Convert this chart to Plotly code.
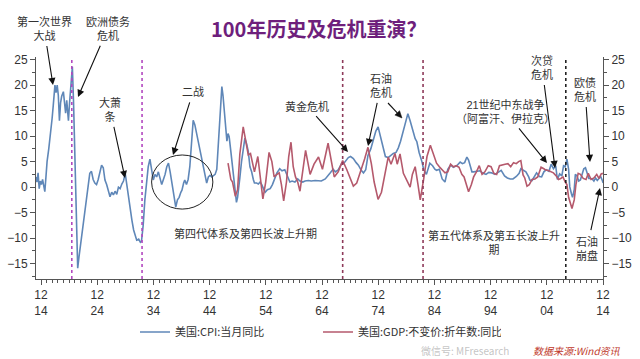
import plotly.graph_objects as go

# ---------------- data ----------------
cpi_year = [
    1914.0, 1914.2, 1914.4, 1914.6, 1914.8, 1915.0, 1915.2, 1915.4, 1915.6, 1915.8,
    1916.0, 1916.3, 1916.6, 1916.9, 1917.1, 1917.4, 1917.6, 1917.8, 1918.0, 1918.2,
    1918.4, 1918.6, 1918.9, 1919.1, 1919.3, 1919.5, 1919.8, 1920.0, 1920.2, 1920.5,
    1920.7, 1920.85, 1921.1, 1921.3, 1921.45, 1921.7, 1921.9, 1922.2, 1922.45, 1922.7,
    1923.05, 1923.3, 1923.6, 1923.9, 1924.2, 1924.5, 1924.8, 1925.1, 1925.4, 1925.7,
    1926.0, 1926.3, 1926.6, 1926.9, 1927.2, 1927.5, 1927.8, 1928.1, 1928.4, 1928.7,
    1929.0, 1929.3, 1929.6, 1929.9, 1930.1, 1930.45, 1930.8, 1931.1, 1931.4, 1931.7,
    1931.95, 1932.3, 1932.6, 1932.8, 1933.1, 1933.4, 1933.7, 1934.0, 1934.3, 1934.6,
    1934.9, 1935.2, 1935.5, 1935.8, 1936.1, 1936.4, 1936.7, 1937.0, 1937.3, 1937.6,
    1937.9, 1938.2, 1938.5, 1938.9, 1939.2, 1939.5, 1939.8, 1940.0, 1940.3, 1940.5,
    1940.8, 1941.1, 1941.4, 1941.7, 1942.0, 1942.3, 1942.6, 1942.9, 1943.2, 1943.5,
    1943.8, 1944.1, 1944.4, 1944.7, 1945.0, 1945.3, 1945.6, 1945.9, 1946.2, 1946.5,
    1946.8, 1947.1, 1947.3, 1947.5, 1947.8, 1948.0, 1948.2, 1948.4, 1948.7, 1948.9,
    1949.2, 1949.4, 1949.7, 1949.9, 1950.1, 1950.3, 1950.6, 1950.9, 1951.2, 1951.5,
    1951.8, 1952.1, 1952.4, 1952.7, 1952.9, 1953.3, 1953.6, 1953.9, 1954.2, 1954.5,
    1954.8, 1955.2, 1955.7, 1956.1, 1956.6, 1956.9, 1957.4, 1957.8, 1958.3, 1958.7,
    1959.2, 1959.6, 1960.1, 1960.6, 1961.0, 1961.5, 1961.9, 1962.5, 1963.0, 1963.7,
    1964.2, 1964.8, 1965.5, 1966.0, 1966.4, 1966.9, 1967.3, 1967.8, 1968.4, 1968.9,
    1969.3, 1969.6, 1970.0, 1970.5, 1971.0, 1971.4, 1971.9, 1972.3, 1972.7, 1973.1,
    1973.6, 1974.1, 1974.5, 1974.9, 1975.3, 1975.8, 1976.2, 1976.7, 1977.1, 1977.6,
    1978.1, 1978.5, 1978.9, 1979.4, 1979.8, 1980.2, 1980.6, 1981.0, 1981.2, 1981.5,
    1981.8, 1982.2, 1982.7, 1983.0, 1983.5, 1984.1, 1984.6, 1985.0, 1985.3, 1985.8,
    1986.3, 1986.8, 1987.3, 1987.8, 1988.3, 1988.9, 1989.5, 1989.9, 1990.3, 1990.7,
    1991.0, 1991.6, 1991.9, 1992.5, 1993.0, 1993.6, 1994.1, 1994.6, 1995.1, 1995.7,
    1996.3, 1996.8, 1997.4, 1997.9, 1998.4, 1998.9, 1999.5, 2000.0, 2000.3, 2000.7,
    2001.2, 2001.7, 2001.9, 2002.3, 2002.8, 2003.1, 2003.6, 2004.0, 2004.4, 2004.8,
    2005.3, 2005.7, 2006.1, 2006.5, 2006.8, 2007.2, 2007.6, 2007.9, 2008.2, 2008.5,
    2008.8, 2009.0, 2009.3, 2009.5, 2009.8, 2010.0, 2010.3, 2010.6, 2010.9, 2011.2,
    2011.5, 2011.8, 2012.1, 2012.4, 2012.7, 2013.0, 2013.3, 2013.6, 2013.9, 2014.2,
    2014.5, 2014.8, 2014.95,
]
cpi_value = [
    2.0, 1.0, 2.8, -0.3, 1.2, 0.5, 1.5, 0.0, -0.9, 2.0,
    5.0, 7.5, 10.0, 13.5, 16.0, 20.0, 18.5, 20.0, 18.0, 13.0,
    16.5, 17.8, 18.7, 16.0, 14.5, 17.0, 13.0, 16.5, 19.0, 23.6,
    17.0, 9.5, -3.0, -10.4, -15.9, -13.5, -11.7, -9.5, -7.8, -4.5,
    -1.9, 1.0, 2.7, 3.1, 1.5, 0.8, 0.5, 1.5, 3.0, 4.3,
    3.8, 1.4, 0.5, -0.6, -1.9, -1.0, -1.5, -0.8, -1.4, 0.0,
    -0.3, 0.6, 1.2, 2.7, 1.0, -1.0, -4.5, -6.5, -8.4, -9.5,
    -10.4, -10.2, -10.8, -10.6, -7.5, -2.5, 1.5, 4.0, 5.5, 3.5,
    1.4, 2.5, 2.0, 3.0, 1.5, 0.5, 1.5, 2.5, 4.0, 4.7,
    3.0, 0.8, -1.9, -3.9, -2.5, -2.0, -1.0, -0.6, 0.8, 1.4,
    0.5, 1.5, 4.0, 8.0, 13.1, 12.2, 10.6, 9.0, 7.9, 6.0,
    4.0, 2.5, 0.8, 2.0, 2.3, 2.0, 2.2, 2.5, 3.5, 9.2,
    15.0, 19.7, 18.0, 15.0, 10.6, 9.0, 10.5, 9.9, 7.0, 5.0,
    1.0, -1.2, -3.0, -2.0, -0.5, 1.8, 5.0, 7.5, 9.6, 8.5,
    7.0, 4.0, 3.0, 1.5, 0.8, 0.8, 0.6, 1.0, 0.5, -0.3,
    -1.0, -0.5, -0.3, 0.5, 1.8, 2.8, 3.6, 3.2, 3.4, 2.2,
    1.0, 1.2, 1.0, 1.6, 1.2, 1.0, 1.2, 1.3, 1.2, 1.3,
    1.2, 1.2, 1.6, 2.2, 2.8, 3.5, 3.0, 3.4, 4.6, 4.8,
    5.3, 5.8, 6.0, 5.6, 4.8, 4.3, 3.3, 2.8, 3.4, 6.2,
    7.5, 9.6, 11.0, 11.8, 10.0, 7.5, 6.0, 5.8, 6.2, 6.6,
    6.8, 7.7, 9.0, 11.3, 12.8, 14.4, 13.0, 11.5, 10.8, 9.5,
    8.9, 6.8, 5.0, 3.5, 2.5, 4.7, 4.2, 3.5, 3.3, 3.5,
    1.6, 1.0, 3.5, 4.3, 3.9, 4.2, 4.9, 4.6, 4.8, 5.9,
    5.3, 3.0, 3.0, 3.1, 3.2, 2.7, 2.5, 2.9, 2.8, 2.5,
    2.9, 3.3, 2.2, 1.8, 1.6, 1.6, 2.1, 2.7, 3.6, 3.4,
    3.0, 2.0, 1.4, 1.3, 2.2, 2.8, 2.1, 2.0, 3.0, 3.4,
    3.1, 4.5, 3.6, 4.2, 1.5, 2.6, 2.2, 4.2, 4.0, 5.5,
    3.5, 0.1, -1.3, -2.0, -0.5, 2.5, 2.2, 1.2, 1.4, 2.6,
    3.6, 3.8, 2.9, 1.7, 1.7, 1.6, 1.2, 1.8, 1.3, 1.6,
    2.1, 1.3, 0.8,
]

gdp_year = [
    1948.2, 1948.7, 1949.0, 1949.5, 1949.9, 1950.3, 1950.9, 1951.3, 1951.8, 1952.2,
    1952.9, 1953.5, 1953.9, 1954.4, 1954.9, 1955.5, 1956.0, 1956.4, 1956.9, 1957.3,
    1957.7, 1958.1, 1958.6, 1959.0, 1959.4, 1959.8, 1960.2, 1960.6, 1961.0, 1961.5,
    1962.0, 1962.8, 1963.5, 1964.3, 1965.0, 1966.0, 1966.6, 1967.1, 1967.8, 1968.6,
    1969.3, 1970.0, 1970.5, 1971.1, 1971.8, 1972.5, 1973.1, 1973.7, 1974.2, 1974.9,
    1975.5, 1976.1, 1976.7, 1977.2, 1977.9, 1978.3, 1978.8, 1979.4, 1980.0, 1980.6,
    1981.0, 1981.5, 1982.0, 1982.4, 1983.0, 1983.6, 1984.2, 1984.7, 1985.3, 1985.8,
    1986.3, 1986.8, 1987.3, 1987.8, 1988.3, 1988.8, 1989.3, 1989.8, 1990.2, 1990.6,
    1991.0, 1991.5, 1991.9, 1992.4, 1992.9, 1993.4, 1993.9, 1994.5, 1995.0, 1995.5,
    1996.0, 1996.5, 1997.0, 1997.5, 1998.0, 1998.5, 1999.0, 1999.5, 1999.9, 2000.3,
    2000.7, 2001.0, 2001.4, 2001.8, 2002.3, 2002.8, 2003.3, 2003.9, 2004.4, 2004.8,
    2005.1, 2005.6, 2006.1, 2006.6, 2007.0, 2007.4, 2007.8, 2008.2, 2008.5, 2008.8,
    2009.2, 2009.4, 2009.8, 2010.1, 2010.5, 2010.9, 2011.4, 2011.9, 2012.3, 2012.8,
    2013.3, 2013.8, 2014.2, 2014.6, 2014.9,
]
gdp_value = [
    4.7, 1.5, 1.0, -1.8, -0.5, 6.5, 11.8, 9.0, 6.3, 6.6,
    3.0, 6.0, 2.0, -2.3, 1.0, 6.8, 5.0, 2.0, 2.5, 2.8,
    0.5, -2.7, 1.0, 6.0, 8.8, 4.0, 2.0, 1.0, -0.8, 3.0,
    7.2, 2.5, 4.5, 5.9, 3.5, 8.6, 5.0, 2.0, 3.0, 5.2,
    3.5, 1.5, 0.2, 0.8, 3.0, 5.5, 7.8, 4.6, 1.0, -2.4,
    -1.0, 2.7, 5.9, 4.5, 6.6, 4.5, 6.5, 2.7, 1.5, 0.0,
    2.5, 4.0, 0.5, -2.5, 1.5, 6.0, 8.2, 6.5, 4.7, 4.0,
    3.5, 2.8, 3.0, 4.5, 4.0, 4.2, 3.9, 2.5, 2.0, 0.5,
    -0.9, 0.5, 2.0, 3.0, 4.2, 2.5, 3.0, 4.2, 4.0, 2.7,
    2.5, 4.2, 4.4, 4.5, 4.6, 4.0, 4.8, 4.6, 5.0, 5.2,
    2.4, 1.8, 0.2, 0.5, 1.5, 1.6, 2.0, 3.9, 3.6, 3.3,
    3.3, 3.1, 2.8, 2.2, 1.5, 1.7, 2.0, 1.0, 0.5, -2.0,
    -3.5, -4.2, -2.5, 0.5, 2.7, 2.5, 1.7, 1.5, 2.7, 1.5,
    1.8, 2.5, 1.7, 2.6, 2.7,
]

tick_years = [1914.92 + 10 * i for i in range(11)]
tick_labels = ["12<br>14", "12<br>24", "12<br>34", "12<br>44", "12<br>54", "12<br>64",
               "12<br>74", "12<br>84", "12<br>94", "12<br>04", "12<br>14"]

divider_years = [1920.4, 1932.9, 1968.6, 1982.9, 2008.3]
divider_colors = ["#b348c0", "#b348c0", "#8e3a5a", "#8e3a5a", "#222222"]

cpi_name = "美国:CPI:当月同比"
gdp_name = "美国:GDP:不变价:折年数:同比"

# ---------------- layout helpers ----------------
W, H = 640, 359
L, R, T, B = 36, 37, 57, 80
X_RANGE = [1914.03, 2014.92]
Y_RANGE = [-18.0, 25.5]
CJK = "Noto Sans CJK SC"
LABEL_FONT = "Liberation Sans, Noto Sans CJK SC"
PW, PH = W - L - R, H - T - B


def px(xp, yp):
    """pixel position -> paper coordinates"""
    return (xp - L) / PW, (H - B - yp) / PH


fig = go.Figure()
fig.add_trace(go.Scatter(x=cpi_year, y=cpi_value, mode="lines", name=cpi_name,
                         line=dict(color="#5f87b8", width=1.6)))
fig.add_trace(go.Scatter(x=gdp_year, y=gdp_value, mode="lines", name=gdp_name,
                         yaxis="y2", line=dict(color="#b5596c", width=1.6)))

shapes = []
for xv, c in zip(divider_years, divider_colors):
    shapes.append(dict(type="line", xref="x", yref="paper", x0=xv, x1=xv, y0=0, y1=1,
                       line=dict(color=c, width=1.6, dash="dot"), layer="above"))
# circle around WWII period
shapes.append(dict(type="circle", xref="x", yref="y", x0=1934.6, x1=1945.5, y0=-4.3, y1=6.3,
                   line=dict(color="#222222", width=1)))

annotations = []
# labels with their arrows: (text, label centre px, arrow head px)
labelled = [
    ("第一次世界<br>大战", (44, 28), (53, 85)),
    ("欧洲债务<br>危机", (108, 28), (78, 97)),
    ("大萧<br>条", (110, 109), (125, 178)),
    ("二战", (193, 92), (173, 155)),
    ("黄金危机", (307, 106), (348, 152)),
    ("石油<br>危机", (381, 85), (368, 146)),
    ("21世纪中东战争<br>（阿富汗、伊拉克）", (505, 111), (547, 163)),
    ("次贷<br>危机", (542, 67), (555, 168)),
    ("欧债<br>危机", (585, 89), (590, 162)),
    ("石油<br>崩盘", (587, 248), (600, 188)),
]
for t, (lxp, lyp), (hx, hy) in labelled:
    hxx, hyy = px(hx, hy)
    annotations.append(dict(text=t, x=hxx, y=hyy, xref="paper", yref="paper",
                            ax=lxp - hx, ay=lyp - hy, showarrow=True, arrowhead=2,
                            arrowsize=1.3, arrowwidth=1.1, arrowcolor="#111111",
                            standoff=0, startstandoff=3,
                            font=dict(family=LABEL_FONT, size=11, color="#333333")))

# second arrow of the oil crisis label, drawn as a line plus a triangular head
t0, h0 = (388, 103), (402, 118)
dx, dy = h0[0] - t0[0], h0[1] - t0[1]
ln = (dx * dx + dy * dy) ** 0.5
ux, uy = dx / ln, dy / ln
bx, by = h0[0] - 7 * ux, h0[1] - 7 * uy
p_head = px(*h0)
p_l = px(bx - 3.2 * uy, by + 3.2 * ux)
p_r = px(bx + 3.2 * uy, by - 3.2 * ux)
p_tail = px(*t0)
p_base = px(bx, by)
shapes.append(dict(type="line", xref="paper", yref="paper", x0=p_tail[0], y0=p_tail[1],
                   x1=p_base[0], y1=p_base[1], line=dict(color="#111111", width=1.1)))
shapes.append(dict(type="path", xref="paper", yref="paper",
                   path=f"M{p_head[0]},{p_head[1]} L{p_l[0]},{p_l[1]} L{p_r[0]},{p_r[1]} Z",
                   fillcolor="#111111", line=dict(color="#111111", width=0.5)))

texts = [
    ("第四代体系及第四长波上升期", 245, 233), ("第五代体系及第五长波上升<br>期", 494, 242),
]
for t, xp, yp in texts:
    xx, yy = px(xp, yp)
    annotations.append(dict(text=t, x=xx, y=yy, xref="paper", yref="paper", showarrow=False,
                            xanchor="center", yanchor="middle",
                            font=dict(family=LABEL_FONT, size=11, color="#333333")))

# title, source, watermark
tx, ty = px(318, 28)
annotations.append(dict(text="<b>100年历史及危机重演？</b>", x=tx, y=ty, xref="paper",
                        yref="paper", showarrow=False, xanchor="center", yanchor="middle",
                        font=dict(family=CJK, size=20, color="#6e1f7c")))
sx, sy = px(577, 350)
annotations.append(dict(text="<i>数据来源:Wind资讯</i>", x=sx, y=sy, xref="paper", yref="paper",
                        showarrow=False, xanchor="center", yanchor="middle",
                        font=dict(family=CJK, size=10, color="#c0392b")))
wx, wy = px(465, 350)
annotations.append(dict(text="微信号: MFresearch", x=wx, y=wy, xref="paper", yref="paper",
                        showarrow=False, xanchor="center", yanchor="middle",
                        font=dict(family=CJK, size=10, color="rgba(170,170,170,0.7)")))

axis_font = dict(family="Liberation Sans, Arial", size=12, color="#333333")
yaxis_common = dict(range=Y_RANGE, tickmode="linear", tick0=0, dtick=5, ticks="outside",
                    ticklen=5, tickcolor="#555555", showline=True, linecolor="#555555",
                    linewidth=1, showgrid=False, zeroline=False, tickfont=axis_font,
                    automargin=False,
                    minor=dict(dtick=2.5, ticklen=3, tickcolor="#555555", ticks="outside"))

lx, ly = px(135, 332)
fig.update_layout(
    width=W, height=H, margin=dict(l=L, r=R, t=T, b=B, autoexpand=False),
    paper_bgcolor="white", plot_bgcolor="white",
    showlegend=True,
    legend=dict(orientation="h", x=lx, y=ly, xanchor="left", yanchor="middle",
                entrywidth=138, entrywidthmode="pixels", bgcolor="rgba(0,0,0,0)",
                font=dict(family=CJK, size=11, color="#333333")),
    xaxis=dict(range=X_RANGE, tickmode="array", tickvals=tick_years, ticktext=tick_labels,
               ticks="outside", ticklen=5, tickcolor="#555555", showline=True,
               linecolor="#555555", linewidth=1, showgrid=False, zeroline=False,
               tickfont=axis_font, automargin=False,
               minor=dict(tickmode="linear", tick0=1914.92, dtick=1, ticklen=3,
                          tickcolor="#555555", ticks="outside")),
    yaxis=yaxis_common,
    yaxis2=dict(yaxis_common, overlaying="y", side="right"),
    shapes=shapes, annotations=annotations,
)

fig.write_html("out.html", config={"displayModeBar": False},
               post_script="document.body.style.margin='0';")
